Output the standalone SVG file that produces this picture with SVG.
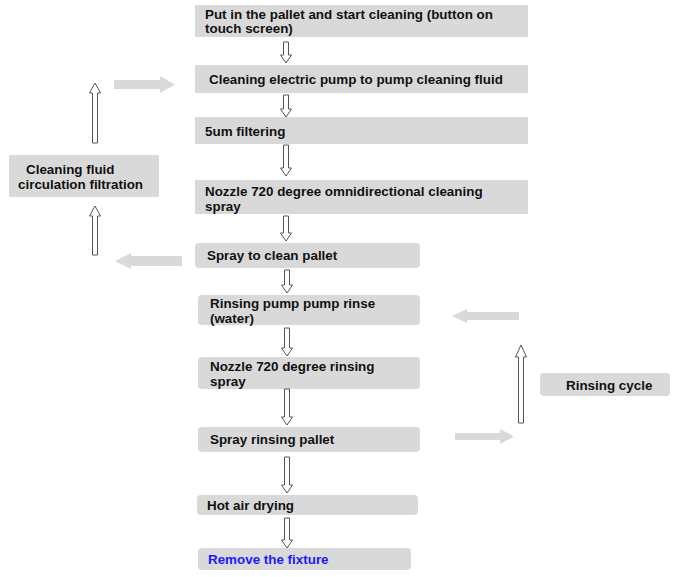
<svg xmlns="http://www.w3.org/2000/svg" width="680" height="577" viewBox="0 0 680 577">
<defs>
<style>
.box{fill:#d9d9d9}
.t{font-family:"Liberation Sans",Arial,sans-serif;font-weight:bold;font-size:13.4px;fill:#111}
.blue{fill:#1a1aff}
.ha{fill:#fff;stroke:#555;stroke-width:1}
.fat{fill:#d9d9d9}
</style>
</defs>
<rect width="680" height="577" fill="#fff"/>
<g id="n1"><rect class="box" x="195" y="5" width="333" height="32"/><text class="t" x="205" y="19">Put in the pallet and start cleaning (button on</text><text class="t" x="205" y="33">touch screen)</text></g>
<g id="n2"><rect class="box" x="195" y="65" width="333" height="28"/><text class="t" x="209" y="84">Cleaning electric pump to pump cleaning fluid</text></g>
<g id="n3"><rect class="box" x="195" y="117" width="333" height="27"/><text class="t" x="205" y="136">5um filtering</text></g>
<g id="n4"><rect class="box" x="195" y="180" width="333" height="34"/><text class="t" x="205" y="196">Nozzle 720 degree omnidirectional cleaning</text><text class="t" x="205" y="211">spray</text></g>
<g id="n5"><rect class="box" x="195" y="243" width="225" height="25" rx="4"/><text class="t" x="207" y="260">Spray to clean pallet</text></g>
<g id="n6"><rect class="box" x="198" y="295" width="222" height="30" rx="4"/><text class="t" x="210" y="308">Rinsing pump pump rinse</text><text class="t" x="210" y="323">(water)</text></g>
<g id="n7"><rect class="box" x="198" y="357" width="222" height="32" rx="4"/><text class="t" x="210" y="371">Nozzle 720 degree rinsing</text><text class="t" x="210" y="386">spray</text></g>
<g id="n8"><rect class="box" x="198" y="427" width="222" height="25" rx="4"/><text class="t" x="210" y="444">Spray rinsing pallet</text></g>
<g id="n9"><rect class="box" x="197" y="495" width="221" height="20" rx="4"/><text class="t" x="207" y="510">Hot air drying</text></g>
<g id="n10"><rect class="box" x="198" y="548" width="213" height="22" rx="4"/><text class="t blue" x="208" y="564">Remove the fixture</text></g>
<g id="n11"><rect class="box" x="9" y="155" width="150" height="42"/><text class="t" x="26" y="174">Cleaning fluid</text><text class="t" x="18" y="189">circulation filtration</text></g>
<g id="n12"><rect class="box" x="540" y="373" width="130" height="23" rx="4"/><text class="t" x="566" y="390">Rinsing cycle</text></g>
<g id="connectors">
<path class="ha" d="M283.5,42 H288.5 V55 H291.5 L286,63 L280.5,55 H283.5 Z"/>
<path class="ha" d="M283.5,95 H288.5 V109 H291.5 L286,117 L280.5,109 H283.5 Z"/>
<path class="ha" d="M283.5,145 H288.5 V168 H291.5 L286,176 L280.5,168 H283.5 Z"/>
<path class="ha" d="M283.5,216 H288.5 V233 H291.5 L286,241 L280.5,233 H283.5 Z"/>
<path class="ha" d="M284.5,270 H289.5 V285 H292.5 L287,293 L281.5,285 H284.5 Z"/>
<path class="ha" d="M284.5,328 H289.5 V348 H292.5 L287,356 L281.5,348 H284.5 Z"/>
<path class="ha" d="M284.5,389 H289.5 V417 H292.5 L287,425 L281.5,417 H284.5 Z"/>
<path class="ha" d="M284.5,457 H289.5 V485 H292.5 L287,493 L281.5,485 H284.5 Z"/>
<path class="ha" d="M284.5,518 H289.5 V540 H292.5 L287,548 L281.5,540 H284.5 Z"/>
<path class="ha" d="M92.5,143 V93 H89.5 L95,83 L100.5,93 H97.5 V143 Z"/>
<path class="ha" d="M92.5,255 V216 H89.5 L95,206 L100.5,216 H97.5 V255 Z"/>
<path class="ha" d="M518.5,423 V357 H515.5 L521,345 L526.5,357 H523.5 V423 Z"/>
<path class="fat" d="M114,80 H160 V76 L175,84.5 L160,93 V89 H114 Z"/>
<path class="fat" d="M182,256 H131 V253 L115,261 L131,269 V266 H182 Z"/>
<path class="fat" d="M519,312 H467 V309 L452,316 L467,323 V320 H519 Z"/>
<path class="fat" d="M455,433 H500 V429 L514,436.5 L500,444 V440 H455 Z"/>
</g>
</svg>
